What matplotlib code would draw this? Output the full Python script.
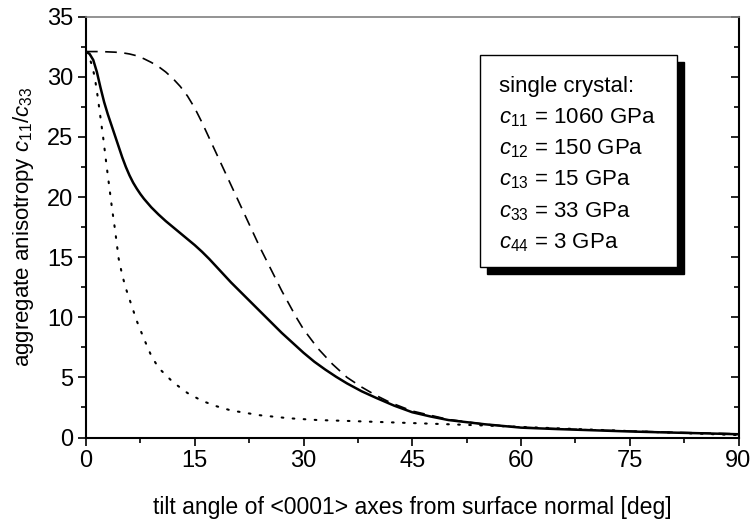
import matplotlib
matplotlib.use("Agg")
import matplotlib.pyplot as plt
from matplotlib.patches import Rectangle
from matplotlib.ticker import MultipleLocator
from matplotlib.lines import TICKLEFT

plt.rcParams['font.family'] = ['Liberation Sans', 'DejaVu Sans']
plt.rcParams['mathtext.fontset'] = 'custom'
plt.rcParams['mathtext.rm'] = 'Liberation Sans'
plt.rcParams['mathtext.it'] = 'Liberation Sans:italic'

# aggregate anisotropy vs. tilt angle
tilt_solid = [0, 0.5, 1, 1.5, 2, 2.5, 3, 3.5, 4, 4.5, 5, 5.5, 6, 6.5, 7, 7.5, 8, 9, 10,
              11, 12, 13, 14, 15, 16, 17, 18, 19, 20, 21, 22, 23, 24, 25, 26, 27, 28,
              29, 30, 31.5, 33, 34.5, 36, 38, 40, 42.5, 45, 47.5, 50, 55, 60, 65, 70,
              75, 80, 85, 90]
aniso_solid = [32.1, 31.9, 31.4, 30.4, 29.1, 27.9, 26.9, 26.0, 25.1, 24.2, 23.3, 22.5,
               21.8, 21.2, 20.7, 20.25, 19.85, 19.15, 18.55, 18.0, 17.5, 17.0, 16.5,
               16.0, 15.45, 14.85, 14.2, 13.55, 12.9, 12.3, 11.7, 11.1, 10.5, 9.9,
               9.3, 8.7, 8.15, 7.6, 7.05, 6.3, 5.65, 5.05, 4.5, 3.85, 3.3, 2.65, 2.1,
               1.75, 1.45, 1.1, 0.82, 0.7, 0.6, 0.5, 0.42, 0.35, 0.27]

tilt_dashed = [0, 2, 4, 5, 6, 7, 8, 9, 10, 11, 12, 13, 14, 15, 16, 17, 18, 19, 20, 21,
               22, 23, 24, 25, 26, 27, 28, 29, 30, 32, 34, 36, 38, 40, 42, 45, 50, 55,
               60, 70, 80, 90]
aniso_dashed = [32.1, 32.1, 32.05, 32.0, 31.9, 31.75, 31.5, 31.2, 30.85, 30.4, 29.85,
                29.2, 28.4, 27.4, 26.2, 24.9, 23.6, 22.3, 21.0, 19.7, 18.4, 17.1, 15.8,
                14.6, 13.4, 12.2, 11.1, 10.0, 9.0, 7.4, 6.1, 5.0, 4.2, 3.5, 2.9, 2.2,
                1.5, 1.1, 0.85, 0.62, 0.45, 0.3]

tilt_dotted = [0, 0.4, 0.8, 1.2, 1.6, 2.0, 2.4, 2.8, 3.2, 3.6, 4.0, 4.5, 5, 5.5, 6, 7,
               8, 9, 10, 12, 14, 16, 18, 20, 24, 28, 32, 36, 40, 45, 50, 55, 60, 70,
               80, 90]
aniso_dotted = [32.1, 31.7, 31.0, 30.0, 28.4, 26.6, 24.8, 22.8, 20.9, 19.0, 17.3, 14.9,
                13.5, 12.4, 11.5, 9.7, 8.2, 6.8, 5.8, 4.6, 3.7, 3.05, 2.6, 2.25, 1.85,
                1.6, 1.45, 1.38, 1.3, 1.2, 1.1, 1.0, 0.88, 0.65, 0.42, 0.2]

legend_title = "single crystal:"
legend_lines = [r"$c_{11}$ = 1060 GPa", r"$c_{12}$ = 150 GPa", r"$c_{13}$ = 15 GPa",
                r"$c_{33}$ = 33 GPa", r"$c_{44}$ = 3 GPa"]

W, H = 751, 519
fig = plt.figure(figsize=(W / 100, H / 100), dpi=100)
ax = fig.add_axes([86 / W, 1 - 437.5 / H, (738.5 - 86) / W, (437.5 - 16.7) / H])

ax.plot(tilt_dotted, aniso_dotted, color='black', lw=1.5, ls=(0, (0.8, 4.5)),
        dash_capstyle='round')
ax.plot(tilt_dashed, aniso_dashed, color='black', lw=1.2, ls=(0, (7, 4.5)))
ax.plot(tilt_solid, aniso_solid, color='black', lw=1.8)

ax.set_xlim(0, 90)
ax.set_ylim(0, 35)
ax.xaxis.set_major_locator(MultipleLocator(15))
ax.xaxis.set_minor_locator(MultipleLocator(7.5))
ax.yaxis.set_major_locator(MultipleLocator(5))
ax.yaxis.set_minor_locator(MultipleLocator(2.5))

ax.tick_params(which='both', direction='out', width=1.2, labelsize=17, pad=3.5)
ax.tick_params(which='major', length=5.5)
ax.tick_params(which='minor', length=3.5)
ax.tick_params(axis='y', which='both', right=True, labelright=False)

for side in ('left', 'bottom', 'right'):
    ax.spines[side].set_linewidth(1.5)
    ax.spines[side].set_color('black')
ax.spines['top'].set_linewidth(1.2)
ax.spines['top'].set_color('#808080')

# right-side ticks point inward
for t in ax.yaxis.get_major_ticks() + ax.yaxis.get_minor_ticks():
    t.tick2line.set_marker(TICKLEFT)

ax.set_xlabel("tilt angle of <0001> axes from surface normal [deg]", fontsize=16.6,
              labelpad=17)
ax.set_ylabel(r"aggregate anisotropy $c_{11}$/$c_{33}$", fontsize=16, labelpad=8)

# parameter box with drop shadow
bx0, bx1, by_top, by_bot = 480, 677, 55, 266.5
off = 7
fig.patches.append(Rectangle(((bx0 + off) / W, 1 - (by_bot + off) / H),
                             (bx1 - bx0) / W, (by_bot - by_top) / H,
                             transform=fig.transFigure, facecolor='black',
                             edgecolor='black', zorder=5))
fig.patches.append(Rectangle((bx0 / W, 1 - by_bot / H), (bx1 - bx0) / W,
                             (by_bot - by_top) / H, transform=fig.transFigure,
                             facecolor='white', edgecolor='black', lw=1.0, zorder=6))

fig.text(499 / W, 1 - 91.7 / H, legend_title, fontsize=16, va='baseline', zorder=7)
for i, line in enumerate(legend_lines):
    fig.text(499 / W, 1 - (123.3 + 31.3 * i) / H, line, fontsize=16, va='baseline',
             zorder=7)

fig.savefig("out.png", dpi=100)
